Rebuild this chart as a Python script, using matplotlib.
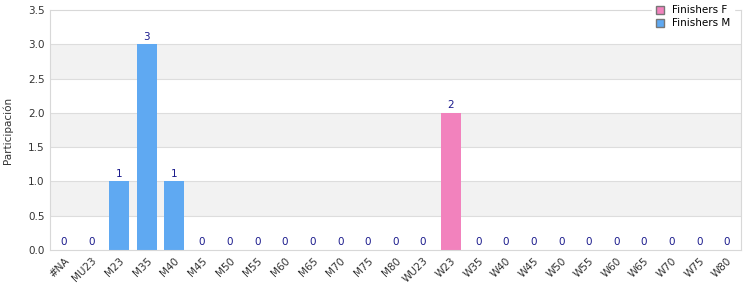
import matplotlib.pyplot as plt
from matplotlib.patches import Patch

categories = ['#NA', 'MU23', 'M23', 'M35', 'M40', 'M45', 'M50', 'M55', 'M60',
              'M65', 'M70', 'M75', 'M80', 'WU23', 'W23', 'W35', 'W40', 'W45',
              'W50', 'W55', 'W60', 'W65', 'W70', 'W75', 'W80']
finishers_m = [0, 0, 1, 3, 1, 0, 0, 0, 0, 0, 0, 0, 0, 0, 0, 0, 0, 0, 0, 0, 0,
               0, 0, 0, 0]
finishers_f = [0, 0, 0, 0, 0, 0, 0, 0, 0, 0, 0, 0, 0, 0, 2, 0, 0, 0, 0, 0, 0,
               0, 0, 0, 0]

col_f = '#f282bd'
col_m = '#5fa9f2'

fig = plt.figure(figsize=(7.5, 3), dpi=100)
ax = fig.add_axes([0.0667, 0.1667, 0.921, 0.80])

x = range(len(categories))
ax.bar(x, finishers_m, width=0.72, color=col_m, zorder=2)
ax.bar(x, finishers_f, width=0.72, bottom=finishers_m, color=col_f, zorder=2)

for i in x:
    total = finishers_m[i] + finishers_f[i]
    ax.text(i, total + 0.04, str(total), ha='center', va='bottom',
            fontsize=7.5, color='#1a1a8c')

# alternating bands
for lo in [0.5, 1.5, 2.5]:
    ax.axhspan(lo, lo + 0.5, color='#f2f2f2', zorder=0, lw=0)
for y in [0.5, 1.0, 1.5, 2.0, 2.5, 3.0]:
    ax.axhline(y, color='#dddddd', lw=0.8, zorder=1)

ax.set_xlim(-0.5, len(categories) - 0.5)
ax.set_ylim(0, 3.5)
ax.set_yticks([0, 0.5, 1.0, 1.5, 2.0, 2.5, 3.0, 3.5])
ax.set_yticklabels(['0.0', '0.5', '1.0', '1.5', '2.0', '2.5', '3.0', '3.5'])
ax.set_xticks(list(x))
ax.set_xticklabels(categories, rotation=45, ha='right', rotation_mode='anchor')
ax.tick_params(length=0, labelsize=7.5, colors='#333333', pad=4)
for s in ax.spines.values():
    s.set_color('#d8d8d8')
ax.set_ylabel('Participación', fontsize=7.5, color='#333333', labelpad=11)

handles = [Patch(facecolor=col_f, edgecolor='#777777', label='Finishers F'),
           Patch(facecolor=col_m, edgecolor='#777777', label='Finishers M')]
leg = fig.legend(handles=handles, loc='upper right', bbox_to_anchor=(0.985, 1.01),
                 fontsize=7.5, frameon=True, handlelength=0.8, handleheight=0.8,
                 borderpad=0.3, labelspacing=0.3, handletextpad=0.8)
leg.get_frame().set_edgecolor('white')
leg.get_frame().set_facecolor('white')
leg.get_frame().set_alpha(1)
leg.set_zorder(5)

fig.savefig('out.png', dpi=100)
